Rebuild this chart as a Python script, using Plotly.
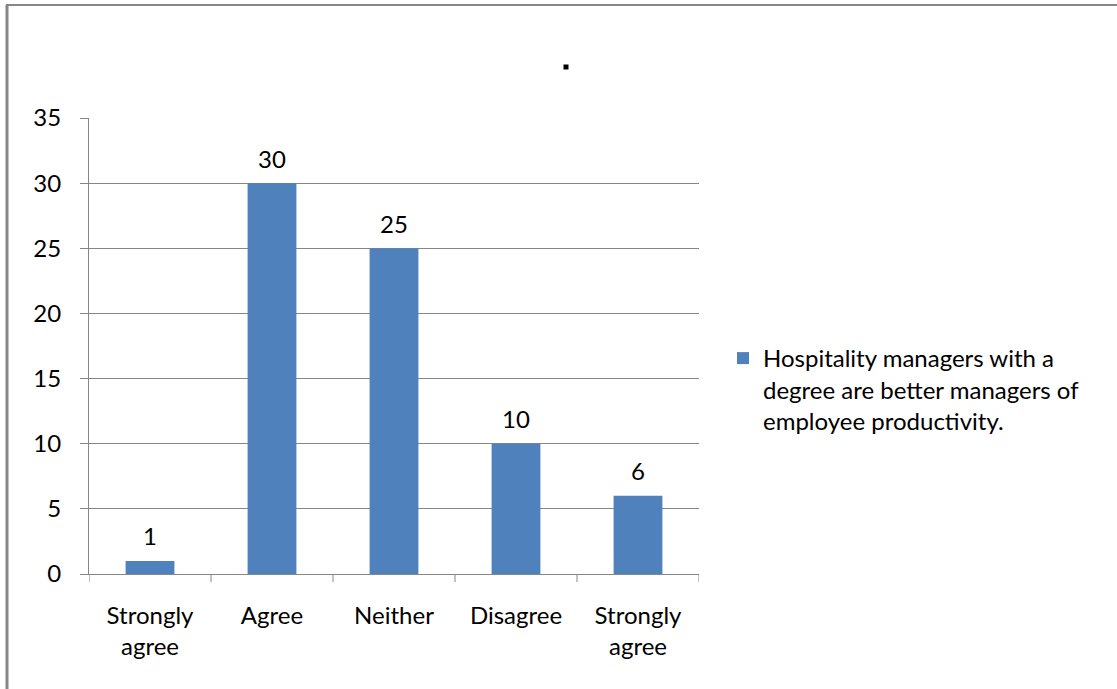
import plotly.graph_objects as go

categories = ["Strongly<br>agree", "Agree", "Neither", "Disagree", "Strongly<br>agree"]
values = [1, 30, 25, 10, 6]
series_name = "Hospitality managers with a<br>degree are better managers of<br>employee productivity."

positions = list(range(len(categories)))

W, H = 1117, 689
L, R, T, B = 89, 699, 118, 574
pw, ph = R - L, B - T
FONT = "Lato, Open Sans, sans-serif"
FS = 24

def px(x):
    return (x - L) / pw

def py(y):
    return (B - y) / ph

fig = go.Figure()
fig.add_trace(go.Bar(
    x=positions, y=values, name=series_name,
    marker=dict(color="#4F81BD", line=dict(width=0)),
    width=0.4,
))

for p, v in zip(positions, values):
    fig.add_annotation(x=p, y=v, xref="x", yref="y", text=str(v),
                       showarrow=False, yanchor="middle", yshift=25,
                       font=dict(family=FONT, size=FS, color="#000000"))

grid = "#868686"
fig.update_layout(
    width=W, height=H,
    margin=dict(l=L, r=W - R, t=T, b=H - B),
    paper_bgcolor="white", plot_bgcolor="white",
    font=dict(family=FONT, size=FS, color="#000000"),
    showlegend=True,
    legend=dict(x=px(723), y=py(336), xanchor="left", yanchor="top",
                valign="top",
                font=dict(size=FS, family=FONT, color="#000000"),
                bgcolor="rgba(0,0,0,0)", itemwidth=30, tracegroupgap=0),
    xaxis=dict(
        tickmode="array", tickvals=positions, ticktext=categories,
        range=[-0.5, len(categories) - 0.5],
        showgrid=False, showline=True, linecolor=grid, linewidth=1,
        ticks="", zeroline=False, fixedrange=True,
        tickfont=dict(size=FS), ticklabelstandoff=20,
    ),
    yaxis=dict(
        range=[0, 35], tickvals=[0, 5, 10, 15, 20, 25, 30, 35],
        showgrid=True, gridcolor=grid, gridwidth=1,
        showline=True, linecolor=grid, linewidth=1,
        ticks="outside", ticklen=8, tickcolor=grid,
        zeroline=False, tickfont=dict(size=FS), ticklabelstandoff=14,
    ),
    bargap=0.6,
)

shapes = []
# category boundary ticks below the x axis
for i in range(len(categories) + 1):
    shapes.append(dict(type="line", xref="x", yref="paper",
                       x0=i - 0.5, x1=i - 0.5, y0=0, y1=py(582),
                       line=dict(color=grid, width=1)))
# outer frame lines
shapes.append(dict(type="line", xref="paper", yref="paper",
                   x0=px(7), x1=px(7), y0=py(5), y1=py(689),
                   line=dict(color=grid, width=3)))
shapes.append(dict(type="line", xref="paper", yref="paper",
                   x0=px(6), x1=px(1117), y0=py(5), y1=py(5),
                   line=dict(color=grid, width=2)))
# small dot artifact
shapes.append(dict(type="rect", xref="paper", yref="paper",
                   x0=px(563.5), x1=px(568.5), y0=py(64.5), y1=py(69.5),
                   fillcolor="#000000", line=dict(width=0)))
fig.update_layout(shapes=shapes)

fig.write_html("out.html")
